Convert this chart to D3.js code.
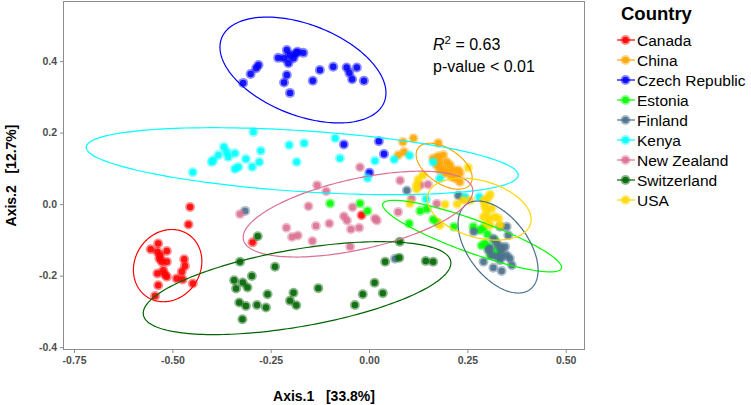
<!DOCTYPE html>
<html lang="en">
<head>
  <meta charset="UTF-8">
  <title>PCoA by country</title>
  <script src="https://cdn.jsdelivr.net/npm/d3@7"></script>
  <style>
    body { margin: 0; background: #fff; }
    text { font-family: "Liberation Sans", Arial, sans-serif; }
    .tick-label { fill: #4d4d4d; font-size: 10.5px; font-weight: bold; }
    .axis-title { font-size: 14px; font-weight: bold; white-space: pre; }
  </style>
</head>
<body>
  <div id="chart"></div>
  <script>
    const countries = ['Canada', 'China', 'Czech Republic', 'Estonia', 'Finland',
      'Kenya', 'New Zealand', 'Switzerland', 'USA'];
    const colors = ['#ff0000', '#ffa500', '#0000ff', '#00ff00', '#4a708b',
      '#00ffff', '#db7093', '#006400', '#ffd700'];

    const xTicks = [-0.75, -0.5, -0.25, 0, 0.25, 0.5];
    const xTickLabels = ['-0.75', '-0.50', '-0.25', '0.00', '0.25', '0.50'];
    const yTicks = [-0.4, -0.2, 0, 0.2, 0.4];
    const yTickLabels = ['-0.4', '-0.2', '0.0', '0.2', '0.4'];

    // [Axis.1, Axis.2] per sample
    const canada = [[-0.455, -0.008], [-0.459, -0.057], [-0.555, -0.126], [-0.536, -0.110],
      [-0.514, -0.131], [-0.538, -0.133], [-0.533, -0.152], [-0.514, -0.161], [-0.527, -0.161],
      [-0.470, -0.154], [-0.468, -0.173], [-0.476, -0.189], [-0.538, -0.194], [-0.519, -0.197],
      [-0.514, -0.203], [-0.489, -0.208], [-0.474, -0.211], [-0.536, -0.227], [-0.448, -0.222],
      [-0.544, -0.257], [-0.531, -0.143], [-0.523, -0.185], [-0.296, -0.107], [-0.019, -0.031]];
    const china = [[0.086, 0.174], [0.113, 0.184], [0.176, 0.171], [0.089, 0.146], [0.074, 0.137],
      [0.163, 0.128], [0.176, 0.134], [0.189, 0.137], [0.180, 0.118], [0.198, 0.118],
      [0.206, 0.109], [0.189, 0.100], [0.180, 0.095], [0.202, 0.090], [0.214, 0.095],
      [0.227, 0.095], [0.231, 0.086], [0.210, 0.076], [0.219, 0.072], [0.231, 0.062],
      [0.193, 0.086], [0.172, 0.109]];
    const czech = [[-0.320, 0.339], [-0.301, 0.364], [-0.287, 0.380], [-0.281, 0.389],
      [-0.231, 0.409], [-0.209, 0.431], [-0.201, 0.417], [-0.192, 0.408], [-0.186, 0.421],
      [-0.182, 0.426], [-0.167, 0.423], [-0.205, 0.394], [-0.216, 0.408], [-0.209, 0.361],
      [-0.216, 0.340], [-0.201, 0.311], [-0.143, 0.345], [-0.125, 0.375], [-0.091, 0.384],
      [-0.057, 0.382], [-0.050, 0.367], [-0.031, 0.382], [-0.043, 0.349], [-0.013, 0.345],
      [-0.064, 0.167], [0.025, 0.176], [0.038, 0.140], [0.001, 0.088]];
    const estonia = [[-0.099, 0.002], [-0.023, 0.002], [-0.004, -0.019], [0.102, -0.054],
      [0.130, -0.019], [0.147, -0.014], [0.163, -0.043], [0.174, -0.052], [0.216, -0.063],
      [0.265, -0.063], [0.282, -0.073], [0.291, -0.066], [0.301, -0.084], [0.295, -0.110],
      [0.286, -0.116], [0.303, -0.119], [0.320, -0.101], [0.308, -0.143], [0.325, -0.129],
      [0.330, -0.137]];
    const finland = [[-0.315, -0.019], [0.096, 0.038], [0.066, -0.153], [0.227, 0.024],
      [0.240, 0.016], [0.266, -0.077], [0.333, -0.063], [0.350, -0.063], [0.354, -0.087],
      [0.316, -0.096], [0.325, -0.110], [0.333, -0.119], [0.308, -0.124], [0.312, -0.143],
      [0.325, -0.147], [0.337, -0.147], [0.350, -0.143], [0.358, -0.152], [0.363, -0.171],
      [0.333, -0.157], [0.291, -0.161], [0.316, -0.178], [0.337, -0.187], [0.303, -0.129],
      [0.337, -0.129], [0.346, -0.119]];
    const kenya = [[-0.448, 0.089], [-0.400, 0.118], [-0.396, 0.123], [-0.383, 0.137],
      [-0.369, 0.160], [-0.362, 0.146], [-0.358, 0.132], [-0.341, 0.142], [-0.332, 0.104],
      [-0.341, 0.098], [-0.313, 0.126], [-0.297, 0.104], [-0.279, 0.118], [-0.275, 0.149],
      [-0.294, 0.202], [-0.203, 0.165], [-0.165, 0.170], [-0.184, 0.118], [-0.086, 0.184],
      [-0.074, 0.128], [-0.004, 0.073], [0.015, 0.121], [0.064, 0.125], [0.103, 0.136],
      [0.163, 0.118], [0.180, 0.072], [0.145, 0.014], [0.244, 0.020], [0.280, 0.020]];
    const newZealand = [[-0.328, -0.028], [-0.023, 0.103], [-0.132, 0.053], [-0.109, 0.036],
      [-0.154, -0.006], [-0.042, -0.009], [-0.064, -0.034], [-0.056, -0.046], [-0.046, -0.070],
      [-0.025, -0.066], [-0.101, -0.054], [-0.135, -0.061], [-0.210, -0.066], [-0.196, -0.092],
      [-0.181, -0.088], [-0.144, -0.103], [-0.048, -0.119], [0.015, -0.040], [0.020, -0.046],
      [0.074, -0.022], [0.079, 0.066], [0.130, 0.053], [0.150, 0.055], [0.108, 0.015],
      [0.172, 0.001]];
    const switzerland = [[-0.283, -0.090], [-0.328, -0.161], [-0.239, -0.175], [-0.298, -0.201],
      [-0.343, -0.213], [-0.321, -0.219], [-0.338, -0.236], [-0.309, -0.233], [-0.258, -0.252],
      [-0.330, -0.275], [-0.313, -0.285], [-0.285, -0.282], [-0.262, -0.289], [-0.322, -0.322],
      [-0.192, -0.248], [-0.201, -0.270], [-0.185, -0.283], [-0.129, -0.235], [-0.016, -0.252],
      [0.014, -0.220], [0.035, -0.249], [-0.036, -0.282], [0.041, -0.161], [0.078, -0.105],
      [0.077, -0.150], [0.144, -0.159], [0.163, -0.161]];
    const usa = [[0.252, 0.102], [0.125, 0.069], [0.137, 0.081], [0.121, 0.053], [0.121, 0.042],
      [0.104, 0.002], [0.193, -0.001], [0.224, 0.000], [0.240, 0.011], [0.257, 0.011],
      [0.308, 0.027], [0.291, 0.011], [0.295, 0.002], [0.295, -0.008], [0.312, -0.012],
      [0.299, -0.022], [0.291, -0.036], [0.306, -0.040], [0.320, -0.036], [0.329, -0.040],
      [0.299, -0.054], [0.308, -0.059], [0.333, -0.059], [0.180, -0.059], [0.302, 0.017]];
    const samples = [canada, china, czech, estonia, finland, kenya, newZealand, switzerland, usa];

    // 95% ellipses: centre, half-width, half-height, x of the topmost point
    const ellipseCx = [-0.512, 0.191, -0.168, 0.262, 0.328, -0.170, -0.028, -0.183, 0.280];
    const ellipseCy = [-0.172, 0.106, 0.375, -0.0895, -0.120, 0.120, -0.028, -0.235, -0.014];
    const ellipseRx = [0.087, 0.0712, 0.211, 0.2275, 0.1017, 0.549, 0.292, 0.391, 0.132];
    const ellipseRy = [0.101, 0.0643, 0.148, 0.1001, 0.1287, 0.0937, 0.120, 0.130, 0.0867];
    const ellipseTopX = [-0.5015, 0.155, -0.259, 0.0636, 0.277, -0.397, 0.130, 0.028, 0.236];

    const stats = ['= 0.63', 'p-value < 0.01'];

    const width = 751, height = 405;
    const margin = { top: 1, right: 166, bottom: 55, left: 63 };

    const svg = d3.select('#chart').append('svg')
      .attr('width', width)
      .attr('height', height);

    const x = d3.scaleLinear().domain([-0.778, 0.549]).range([margin.left, width - margin.right]);
    const y = d3.scaleLinear().domain([-0.408, 0.568]).range([height - margin.bottom, margin.top]);

    svg.append('rect')
      .attr('x', margin.left).attr('y', margin.top)
      .attr('width', width - margin.right - margin.left)
      .attr('height', height - margin.bottom - margin.top)
      .attr('fill', '#fff');

    // points: translucent halo with a stronger core
    const pts = svg.append('g');
    samples.forEach((s, i) => {
      const g = pts.append('g');
      g.selectAll('circle.halo').data(s).join('circle')
        .attr('class', 'halo')
        .attr('cx', d => x(d[0])).attr('cy', d => y(d[1]))
        .attr('r', 5)
        .attr('fill', colors[i]).attr('fill-opacity', 0.45);
      g.selectAll('circle.core').data(s).join('circle')
        .attr('class', 'core')
        .attr('cx', d => x(d[0])).attr('cy', d => y(d[1]))
        .attr('r', 3.2)
        .attr('fill', colors[i]).attr('fill-opacity', 0.85);
    });

    // ellipses
    const line = d3.line().x(d => x(d[0])).y(d => y(d[1]));
    countries.forEach((c, i) => {
      const a = ellipseRx[i];
      const b = (ellipseTopX[i] - ellipseCx[i]) * ellipseRy[i] / a;
      const cc = Math.sqrt(ellipseRy[i] * ellipseRy[i] - b * b);
      const ring = d3.range(0, 201).map(k => {
        const t = k / 200 * 2 * Math.PI;
        return [ellipseCx[i] + a * Math.cos(t), ellipseCy[i] + b * Math.cos(t) + cc * Math.sin(t)];
      });
      svg.append('path')
        .attr('d', line(ring))
        .attr('fill', 'none')
        .attr('stroke', colors[i])
        .attr('stroke-width', 1.2);
    });

    // panel border
    svg.append('rect')
      .attr('x', margin.left + 0.5).attr('y', margin.top + 0.5)
      .attr('width', width - margin.right - margin.left - 1)
      .attr('height', height - margin.bottom - margin.top - 1)
      .attr('fill', 'none')
      .attr('stroke', '#8c8c8c')
      .attr('stroke-width', 1);

    // axes
    const xAxis = svg.append('g')
      .attr('transform', `translate(0,${height - margin.bottom})`)
      .call(d3.axisBottom(x).tickValues(xTicks).tickSize(3).tickPadding(4)
        .tickFormat((d, i) => xTickLabels[i]));
    const yAxis = svg.append('g')
      .attr('transform', `translate(${margin.left},0)`)
      .call(d3.axisLeft(y).tickValues(yTicks).tickSize(3).tickPadding(3)
        .tickFormat((d, i) => yTickLabels[i]));
    [xAxis, yAxis].forEach(ax => {
      ax.select('.domain').remove();
      ax.selectAll('.tick line').attr('stroke', '#8c8c8c');
      ax.selectAll('.tick text').attr('class', 'tick-label').attr('font-family', null).attr('font-size', null);
    });

    svg.append('text')
      .attr('class', 'axis-title')
      .attr('x', (margin.left + width - margin.right) / 2)
      .attr('y', 401)
      .attr('text-anchor', 'middle')
      .text('Axis.1   [33.8%]');
    svg.append('text')
      .attr('class', 'axis-title')
      .attr('transform', `translate(16,${(margin.top + height - margin.bottom) / 2}) rotate(-90)`)
      .attr('text-anchor', 'middle')
      .text('Axis.2   [12.7%]');

    // annotation
    const ann = svg.append('text')
      .attr('x', 433).attr('y', 50)
      .attr('font-size', 16);
    ann.append('tspan').attr('font-style', 'italic').text('R');
    ann.append('tspan').attr('dy', -6).attr('font-size', 11.5).text('2');
    ann.append('tspan').attr('dy', 6).text(' ' + stats[0]);
    svg.append('text')
      .attr('x', 433).attr('y', 71.5)
      .attr('font-size', 16)
      .text(stats[1]);

    // legend
    const legend = svg.append('g');
    legend.append('text')
      .attr('x', 621).attr('y', 20)
      .attr('font-size', 18.5).attr('font-weight', 'bold')
      .text('Country');
    const items = legend.selectAll('g.item').data(countries).join('g')
      .attr('class', 'item')
      .attr('transform', (d, i) => `translate(0,${40 + i * 20})`);
    items.append('line')
      .attr('x1', 617).attr('x2', 635)
      .attr('stroke', (d, i) => colors[i]).attr('stroke-width', 1.2);
    items.append('circle')
      .attr('cx', 625.5).attr('r', 5)
      .attr('fill', (d, i) => colors[i]).attr('fill-opacity', 0.45);
    items.append('circle')
      .attr('cx', 625.5).attr('r', 3.2)
      .attr('fill', (d, i) => colors[i]).attr('fill-opacity', 0.85);
    items.append('text')
      .attr('x', 637).attr('y', 5.5)
      .attr('font-size', 15.5)
      .text(d => d);
  </script>
</body>
</html>
